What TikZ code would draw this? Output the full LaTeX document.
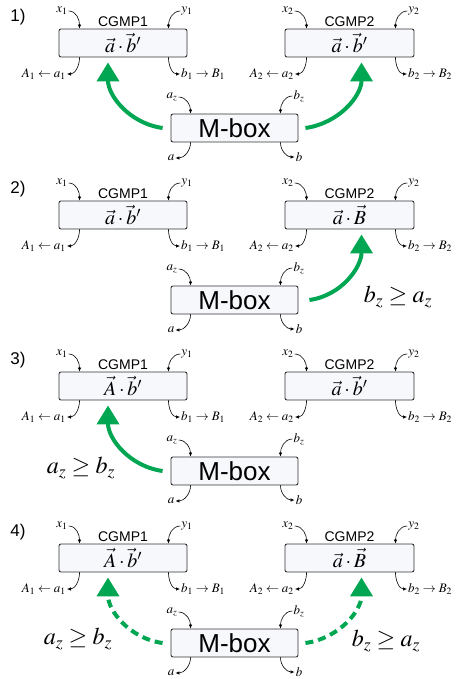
\documentclass[tikz,border=0pt]{standalone}
\usepackage{mathptmx}
\usepackage{fontspec}
\setmainfont{Liberation Sans}
\usetikzlibrary{arrows.meta}
\definecolor{pushgreen}{RGB}{0,166,81}
\definecolor{boxfill}{RGB}{246,248,252}
\tikzset{
  cgmp/.style={draw=black!80, fill=boxfill, rounded corners=2pt, line width=0.9pt,
    minimum width=128pt, minimum height=28pt, inner sep=0pt, font=\fontsize{20}{22}\selectfont},
  mbox/.style={cgmp, minimum width=127pt, font=\fontsize{26}{28}\selectfont},
  title/.style={above=1pt, inner sep=1pt, font=\fontsize{14}{16}\selectfont},
  io/.style={-{Latex[length=4pt,width=3.5pt]}, line width=0.6pt},
  lbl/.style={inner sep=1pt, font=\fontsize{13}{14}\selectfont},
  cond/.style={inner sep=1pt, font=\fontsize{24}{26}\selectfont},
  push/.style={pushgreen, line width=4pt, -{Triangle[length=19pt,width=22pt]}},
  maybe/.style={push, dash pattern=on 8pt off 5pt}
}
\begin{document}
\begin{tikzpicture}[x=1pt,y=-1pt]
\useasboundingbox (0,0) rectangle (458,679);
\foreach \dy/\k/\ltxt/\rtxt in {0/1/{\vec a\cdot\vec b'}/{\vec a\cdot\vec b'},
    172/2/{\vec a\cdot\vec b'}/{\vec a\cdot\vec B},
    343/3/{\vec A\cdot\vec b'}/{\vec a\cdot\vec b'},
    515/4/{\vec A\cdot\vec b'}/{\vec a\cdot\vec B}} {
  \begin{scope}[shift={(0,\dy)}]
    \node[font=\fontsize{17}{19}\selectfont] (num-\k) at (18,17) {\k)};
    \node[cgmp] (c1-\k) at (123,43) {$\ltxt$};
    \node[cgmp, minimum width=129pt] (c2-\k) at (349.5,43) {$\rtxt$};
    \node[mbox] (m-\k) at (234.5,128) {M-box};
    \node[title] at (c1-\k.north) {CGMP1};
    \node[title] at (c2-\k.north) {CGMP2};
    \node[lbl] (x1-\k) at (62,11) {$x_1$};
    \node[lbl] (y1-\k) at (187,11) {$y_1$};
    \node[lbl, anchor=east] (a1-\k) at (67,74) {$A_1\leftarrow a_1$};
    \node[lbl, anchor=west] (b1-\k) at (180,74) {$b_1\rightarrow B_1$};
    \node[lbl] (x2-\k) at (288,11) {$x_2$};
    \node[lbl] (y2-\k) at (414,11) {$y_2$};
    \node[lbl, anchor=east] (a2-\k) at (295,74) {$A_2\leftarrow a_2$};
    \node[lbl, anchor=west] (b2-\k) at (407,74) {$b_2\rightarrow B_2$};
    \node[lbl] (az-\k) at (172,97) {$a_z$};
    \node[lbl] (bz-\k) at (299,96) {$b_z$};
    \node[lbl] (a-\k) at (171,158) {$a$};
    \node[lbl] (b-\k) at (299,157) {$b$};
    \draw[io] (x1-\k.east) to[out=0,in=90] ([xshift=21pt]c1-\k.north west);
    \draw[io] (y1-\k.west) to[out=180,in=90] ([xshift=-19pt]c1-\k.north east);
    \draw[io] ([xshift=21pt]c1-\k.south west) to[out=-90,in=0] (a1-\k.east);
    \draw[io] ([xshift=-19pt]c1-\k.south east) to[out=-90,in=180] (b1-\k.west);
    \draw[io] (x2-\k.east) to[out=0,in=90] ([xshift=22pt]c2-\k.north west);
    \draw[io] (y2-\k.west) to[out=180,in=90] ([xshift=-19pt]c2-\k.north east);
    \draw[io] ([xshift=22pt]c2-\k.south west) to[out=-90,in=0] (a2-\k.east);
    \draw[io] ([xshift=-19pt]c2-\k.south east) to[out=-90,in=180] (b2-\k.west);
    \draw[io] (az-\k.east) to[out=0,in=90] ([xshift=20pt]m-\k.north west);
    \draw[io] (bz-\k.west) to[out=180,in=90] ([xshift=-18pt]m-\k.north east);
    \draw[io] ([xshift=20pt]m-\k.south west) to[out=-90,in=0] (a-\k.east);
    \draw[io] ([xshift=-18pt]m-\k.south east) to[out=-90,in=180] (b-\k.west);
  \end{scope}}
\node[cond] (cond-2) at (398,297) {$b_z\geq a_z$};
\node[cond] (cond-3) at (81,468) {$a_z\geq b_z$};
\node[cond] (cond-4a) at (78,639) {$a_z\geq b_z$};
\node[cond] (cond-4b) at (386,641) {$b_z\geq a_z$};
\draw[push] ([xshift=-8pt]m-1.west) to[out=172,in=-90] ([shift={(-15,5)}]c1-1.south);
\draw[push] ([xshift=7pt]m-1.east) to[out=8,in=-90] ([shift={(12,5)}]c2-1.south);
\draw[push] ([xshift=11pt]m-2.east) to[out=8,in=-90] ([shift={(12,5)}]c2-2.south);
\draw[push] ([xshift=-8pt]m-3.west) to[out=172,in=-90] ([shift={(-15,5)}]c1-3.south);
\draw[maybe] ([xshift=-8pt]m-4.west) to[out=172,in=-90] ([shift={(-15,5)}]c1-4.south);
\draw[maybe] ([xshift=7pt]m-4.east) to[out=8,in=-90] ([shift={(12,5)}]c2-4.south);
\end{tikzpicture}
\end{document}
